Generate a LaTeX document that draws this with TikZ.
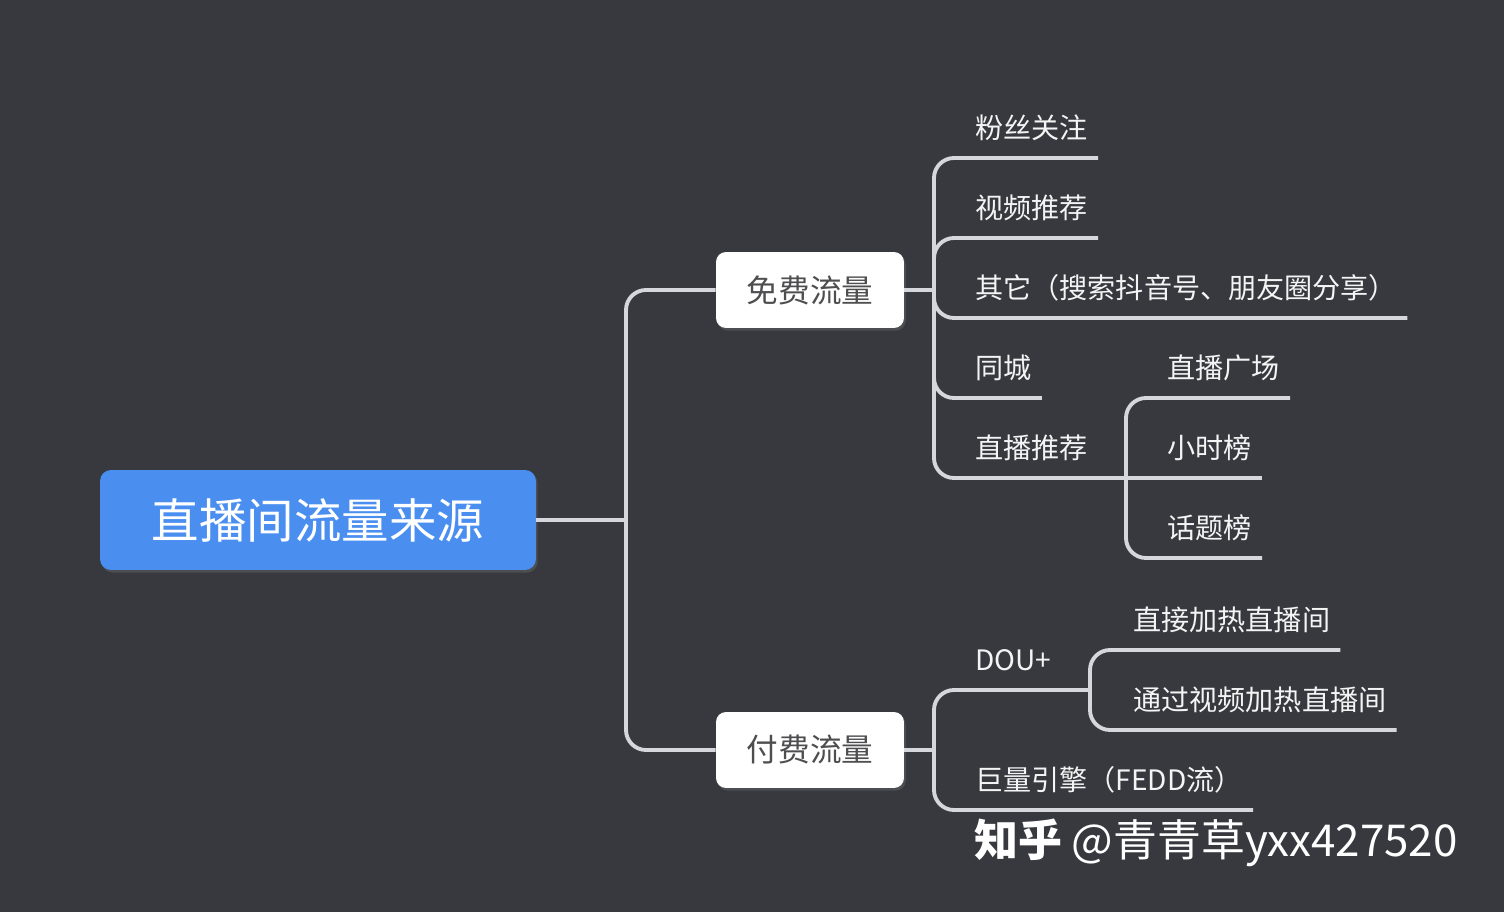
\documentclass[tikz,border=0pt]{standalone}
\usepackage{fontspec}
\setmainfont{Noto Sans CJK SC}
\usepackage{xcolor}
\usepackage{tikz}
\usetikzlibrary{shadows}
\definecolor{bgdark}{RGB}{55,57,63}
\definecolor{linegray}{RGB}{214,215,220}
\definecolor{rootblue}{RGB}{74,143,240}
\definecolor{boxtext}{RGB}{78,78,80}
\definecolor{leaftext}{RGB}{244,244,244}

\begin{document}
\begin{tikzpicture}[x=0.02cm, y=-0.02cm,
    conn/.style={draw=linegray, line width=2.2pt, rounded corners=0.4cm},
    rootbox/.style={fill=rootblue, rounded corners=0.22cm, minimum width=8.72cm, minimum height=2cm,
      text=white, font=\fontsize{27}{30}\selectfont,
      drop shadow={opacity=0.3, shadow xshift=1pt, shadow yshift=-1.5pt}},
    catbox/.style={fill=white, rounded corners=0.2cm, minimum width=3.76cm, minimum height=1.52cm,
      text=boxtext, font=\fontsize{18}{21}\selectfont,
      drop shadow={opacity=0.3, shadow xshift=1pt, shadow yshift=-1.5pt}},
    leaf/.style={anchor=south west, inner xsep=0.2cm, inner ysep=4pt, text depth=7pt,
      text=leaftext, font=\fontsize{16}{19}\selectfont}]

      \fill[bgdark] (0,0) rectangle (1504,912);

      \node[rootbox] (root) at (318,520) {直播间流量来源};
      \node[catbox] (free) at (810,290) {免费流量};
      \node[catbox] (paid) at (810,750) {付费流量};

      \coordinate (rj) at (626,520);
      \coordinate (fj) at (934,290);
      \coordinate (pj) at (934,750);
      \coordinate (lj) at (1126,478);
      \coordinate (dj) at (1090,690);

      % free traffic
      \node[leaf] (fans) at (965,158) {粉丝关注};
      \node[leaf] (video) at (965,238) {视频推荐};
      \node[leaf] (other) at (965,318) {其它（搜索抖音号、朋友圈分享）};
      \node[leaf] (city) at (965,398) {同城};
      \node[leaf] (live) at (965,478) {直播推荐};
      \node[leaf] (plaza) at (1157,398) {直播广场};
      \node[leaf] (hour) at (1157,478) {小时榜};
      \node[leaf] (topic) at (1157,558) {话题榜};

      % paid traffic
      \node[leaf] (dou) at (965,690) {DOU+};
      \node[leaf] (direct) at (1123,650) {直接加热直播间};
      \node[leaf] (viavideo) at (1123,730) {通过视频加热直播间};
      \node[leaf] (engine) at (965,810) {巨量引擎（FEDD流）};

      \draw[conn] (root.east) -- (rj);
      \draw[conn] (rj) |- (free.west);
      \draw[conn] (rj) |- (paid.west);

      \draw[conn] (free.east) -- (fj);
      \foreach \n in {fans, video, other, city}
        \draw[conn] (fj) |- (\n.south east);
      \draw[conn] (fj) |- (live.south east) -- (lj);
      \draw[conn] (lj) |- (plaza.south east);
      \draw[conn] (lj) -- (hour.south east);
      \draw[conn] (lj) |- (topic.south east);

      \draw[conn] (paid.east) -- (pj);
      \draw[conn] (pj) |- (dou.south east) -- (dj);
      \draw[conn] (pj) |- (engine.south east);
      \foreach \n in {direct, viavideo}
        \draw[conn] (dj) |- (\n.south east);

      \node[anchor=west, text=white, font=\fontsize{25}{28}\selectfont] (mark) at (968,843)
        {\textbf{知乎} @青青草yxx427520};
\end{tikzpicture}
\end{document}
